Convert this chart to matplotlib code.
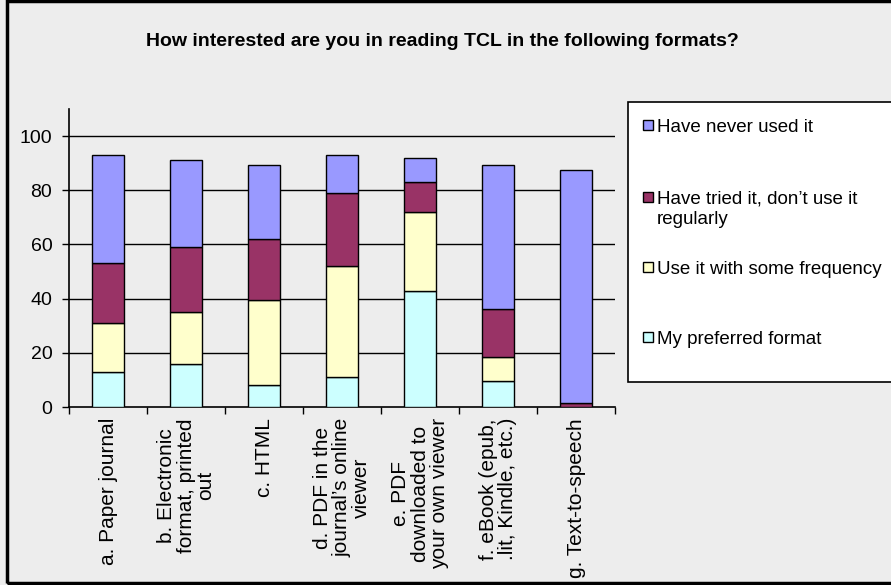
import matplotlib
matplotlib.use("Agg")
import matplotlib.pyplot as plt
from matplotlib.patches import Rectangle
import numpy as np

plt.rcParams['font.family'] = ['Liberation Sans', 'DejaVu Sans']

# 資料
categories = [
    "a. Paper journal",
    "b. Electronic\nformat, printed\nout",
    "c. HTML",
    "d. PDF in the\njournal\u2019s online\nviewer",
    "e. PDF\ndownloaded to\nyour own viewer",
    "f. eBook (epub,\n.lit, Kindle, etc.)",
    "g. Text-to-speech",
]
preferred = [13, 16, 8, 11, 43, 9.5, 0]
some_freq = [18, 19, 31.5, 41, 29, 9, 0]
tried = [22, 24, 22.5, 27, 11, 17.5, 1.5]
never = [40, 32, 27.5, 14, 9, 53.5, 86]

series_labels = ["My preferred format", "Use it with some frequency",
                 "Have tried it, don\u2019t use it\nregularly", "Have never used it"]
colors = ["#CCFFFF", "#FFFFCC", "#993366", "#9999FF"]
yticks = [0, 20, 40, 60, 80, 100]

W, H = 891, 585
bg = "#EDEDED"
fig = plt.figure(figsize=(W / 100, H / 100), dpi=100, facecolor=bg)

def fx(px):
    return px / W

def fy(py):
    return 1 - py / H

# 外框
fig.patches.append(Rectangle((fx(7), fy(583)), fx(900) - fx(7), fy(1) - fy(583),
                             transform=fig.transFigure, fill=False,
                             edgecolor="black", lw=2.5))

ax = fig.add_axes([fx(69), fy(407), fx(615) - fx(69), fy(109) - fy(407)])
ax.set_facecolor(bg)

x = np.arange(len(categories))
bottom = np.zeros(len(categories))
for vals, c in zip([preferred, some_freq, tried, never], colors):
    ax.bar(x, vals, width=0.4, bottom=bottom, color=c, edgecolor="black",
           linewidth=1, zorder=3)
    bottom += np.array(vals)

ax.set_xlim(-0.5, len(categories) - 0.5)
ax.set_ylim(0, 110)
ax.set_yticks(yticks)
ax.set_yticklabels([str(v) for v in yticks], fontsize=14)
for v in yticks[1:]:
    ax.axhline(v, color="black", lw=1, zorder=1)

ax.set_xticks(np.arange(-0.5, len(categories)), labels=[])
ax.set_xticks(x, labels=categories, minor=True)
ax.tick_params(axis="x", which="major", direction="out", length=5, width=1)
ax.tick_params(axis="x", which="minor", length=0, pad=8)
ax.tick_params(axis="y", direction="out", length=5, width=1, pad=7)
for lab in ax.get_xticklabels(minor=True):
    lab.set_rotation(90)
    lab.set_fontsize(15)
    lab.set_ha("center")
    lab.set_va("top")
    lab.set_multialignment("center")
    lab.set_linespacing(1.05)

for s in ["top", "right"]:
    ax.spines[s].set_visible(False)
for s in ["left", "bottom"]:
    ax.spines[s].set_linewidth(1.2)

fig.text(fx(442), fy(46), "How interested are you in reading TCL in the following formats?",
         ha="center", va="baseline", fontsize=14, fontweight="bold")

# 圖例
fig.patches.append(Rectangle((fx(628), fy(382)), fx(900) - fx(628), fy(102) - fy(382),
                             transform=fig.transFigure, facecolor="white",
                             edgecolor="black", lw=1.2))
legend_y = [125, 197, 267, 337]
for lab, c, yy in zip(series_labels[::-1], colors[::-1], legend_y):
    fig.patches.append(Rectangle((fx(643), fy(yy + 5)), fx(10), 10 / H,
                                 transform=fig.transFigure, facecolor=c,
                                 edgecolor="black", lw=1))
    for i, line in enumerate(lab.split("\n")):
        fig.text(fx(657), fy(yy + 6.5 + i * 21), line, ha="left", va="baseline",
                 fontsize=13.5, transform=fig.transFigure)

fig.savefig("out.png", dpi=100, facecolor=bg)
